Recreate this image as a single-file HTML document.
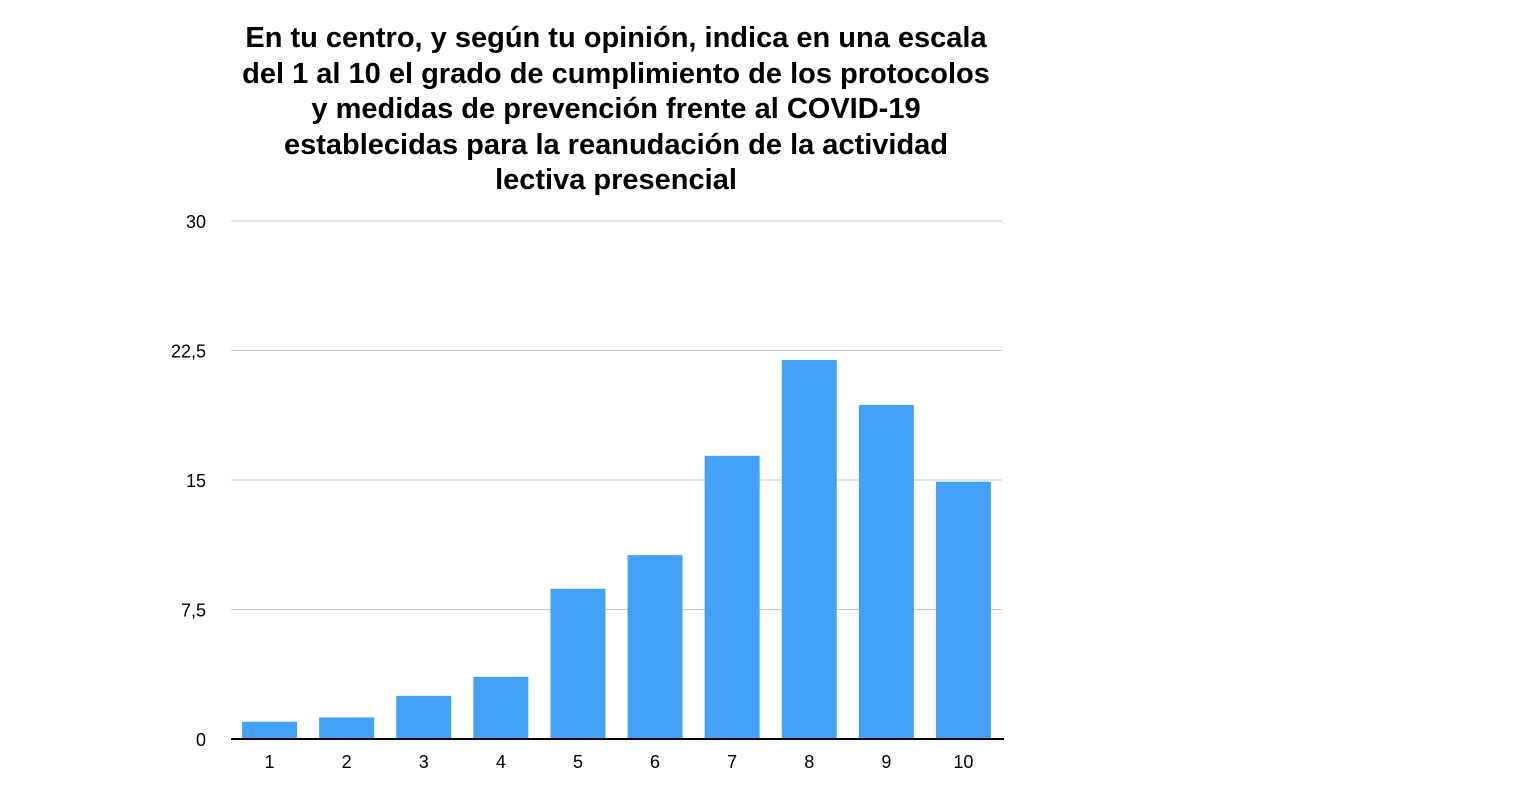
<!DOCTYPE html>
<html><head><meta charset="utf-8"><style>
body{margin:0;width:1526px;height:800px;background:#fff;overflow:hidden;font-family:"Liberation Sans",sans-serif;}
#title{position:absolute;left:166px;width:900px;top:21px;text-align:center;font-weight:bold;font-size:29px;line-height:35.5px;color:#000;}
svg{position:absolute;left:0;top:0;}
</style></head><body>
<div id="title">En tu centro, y según tu opinión, indica en una escala<br>del 1 al 10 el grado de cumplimiento de los protocolos<br>y medidas de prevención frente al COVID-19<br>establecidas para la reanudación de la actividad<br>lectiva presencial</div>
<svg id="chart" width="1526" height="800"></svg>
<script>
const categories=["1","2","3","4","5","6","7","8","9","10"];
const values=[1,1.25,2.5,3.6,8.7,10.65,16.4,21.95,19.35,14.9];
const yTicks=[0,7.5,15,22.5,30];
const yTickLabels=["0","7,5","15","22,5","30"];
const svg=document.getElementById('chart');
const NS='http://www.w3.org/2000/svg';
const x0=231,x1=1002,yTop=221,yBot=739,yMax=30;
const y=v=>yBot-(v/yMax)*(yBot-yTop);
const band=(x1-x0)/categories.length;
const xc=i=>x0+band*(i+0.5);
function mk(t,a){const e=document.createElementNS(NS,t);for(const k in a)e.setAttribute(k,a[k]);svg.appendChild(e);return e;}
yTicks.forEach((t,i)=>{
  if(t>0){const g=mk('line',{x1:x0,x2:x1,y1:y(t),y2:y(t),stroke:'#c8c8c8','stroke-width':1});
  
  }
  const l=mk('text',{x:206,y:y(t)+7,'text-anchor':'end','font-size':18,fill:'#000'});
  
  
  l.textContent=yTickLabels[i];
});
values.forEach((v,i)=>{
  const r=mk('rect',{x:xc(i)-27.5,y:y(v),width:55,height:yBot-y(v),fill:'#44a1f8'});
  
  
  const l=mk('text',{x:xc(i),y:768,'text-anchor':'middle','font-size':18,fill:'#000'});
  
  
  l.textContent=categories[i];
});
const ax=mk('line',{x1:x0,x2:x1+2,y1:yBot,y2:yBot,stroke:'#000','stroke-width':2});


</script>
</body></html>
